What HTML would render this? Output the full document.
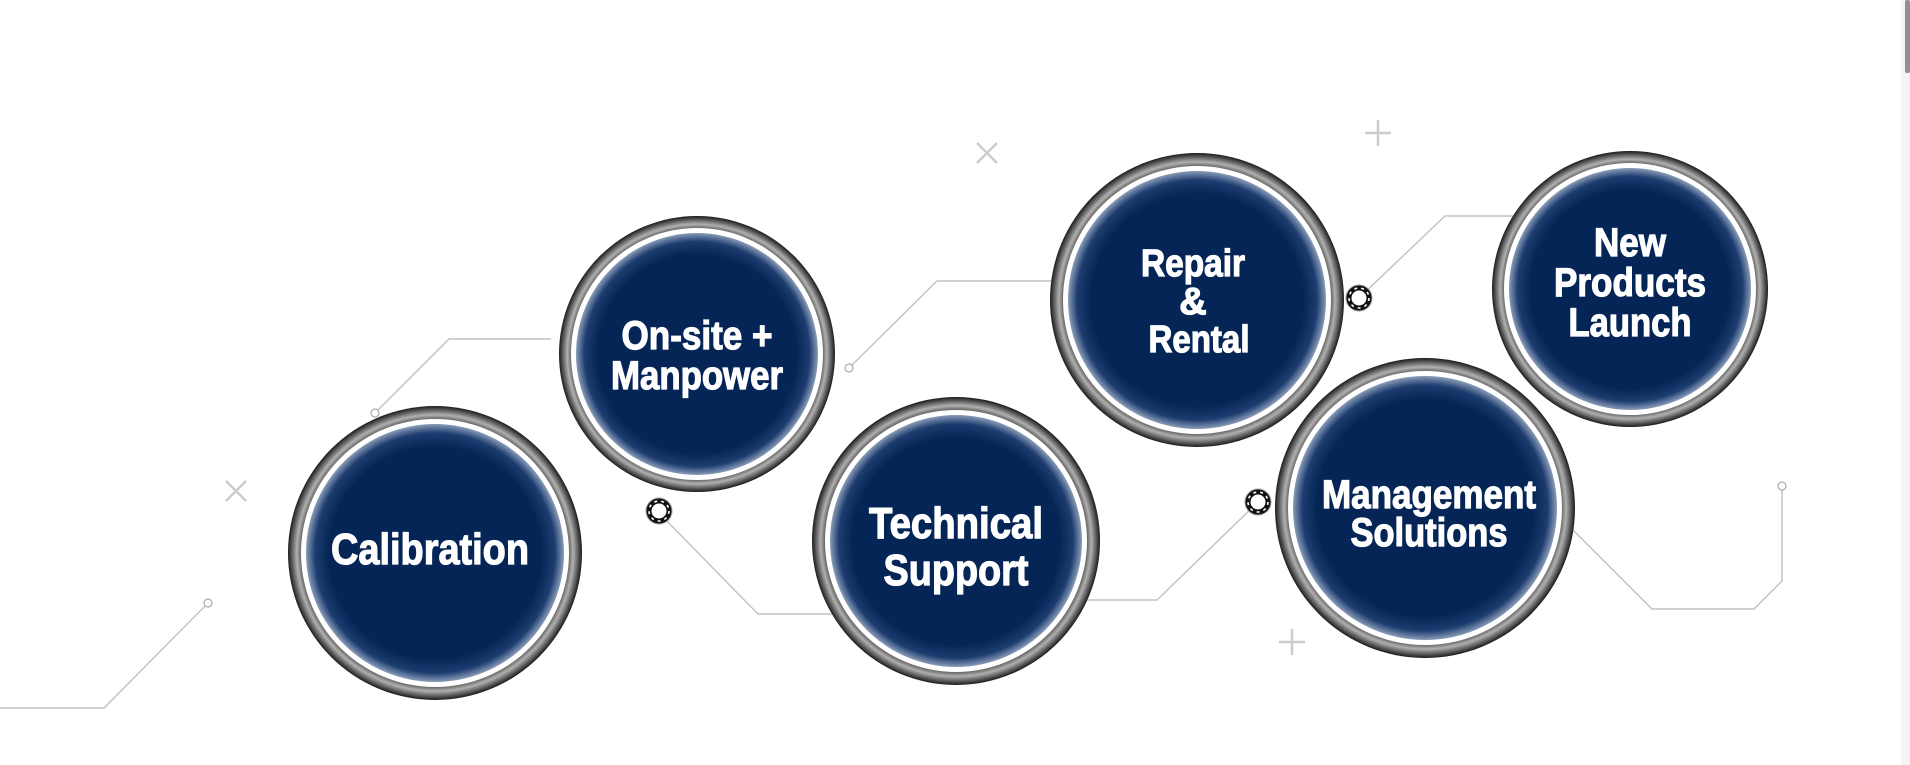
<!DOCTYPE html>
<html><head><meta charset="utf-8"><style>
html,body{margin:0;padding:0;background:#fff;width:1910px;height:765px;overflow:hidden}
svg{display:block}
text{font-family:"Liberation Sans Narrow","Liberation Sans",sans-serif;font-weight:bold;fill:#fff;stroke:#fff;stroke-width:1.2;text-anchor:middle}
</style></head><body>
<svg width="1910" height="765" viewBox="0 0 1910 765">
<defs>
<radialGradient id="ring" cx="50%" cy="50%" r="50%">
<stop offset="88%" stop-color="#1a1a1a"/><stop offset="94%" stop-color="#b0b0b0"/><stop offset="100%" stop-color="#1a1a1a"/>
</radialGradient>
<radialGradient id="fill" cx="50%" cy="50%" r="50%">
<stop offset="82%" stop-color="#052556"/><stop offset="93%" stop-color="#1d3d70"/><stop offset="100%" stop-color="#8a9cb8"/>
</radialGradient>
<g id="gear"><circle r="13" fill="#fff" stroke="#999" stroke-width="1"/><circle r="10" fill="none" stroke="#111" stroke-width="5"/><circle r="10" fill="none" stroke="#fff" stroke-width="1.6" stroke-dasharray="3 4"/></g>
</defs>
<g fill="none" stroke="#c4c4c4" stroke-width="1.5">
<polyline points="0,708 104,708 208,603"/>
<polyline points="375,413 449,339 551,339"/>
<polyline points="659,513 758,614 840,614"/>
<polyline points="1079,600 1157,600 1258,502"/>
<polyline points="849,368 937,281 1060,281"/>
<polyline points="1359,298 1445,216 1514,216"/>
<polyline points="1569,526 1652,609 1754,609 1782,581 1782,486"/>
</g>
<g fill="#fff" stroke="#aaa" stroke-width="1.2">
<circle cx="208" cy="603" r="4"/><circle cx="375" cy="413" r="4"/><circle cx="849" cy="368" r="4"/><circle cx="1782" cy="486" r="4"/><circle cx="1569" cy="526" r="4"/>
</g>
<use href="#gear" x="659" y="511"/><use href="#gear" x="1258" y="502"/><use href="#gear" x="1359" y="298"/>
<g stroke="#ccc" stroke-width="2.5" fill="none">
<path d="M977,143 l20,20 M997,143 l-20,20"/><path d="M226,481 l20,20 M246,481 l-20,20"/>
<path d="M1378,120 v26 M1365,133 h26"/><path d="M1292,629 v26 M1279,642 h26"/>
</g>
<g>
<circle cx="435" cy="553" r="147" fill="url(#ring)"/><circle cx="435" cy="553" r="134" fill="#fff"/><circle cx="435" cy="553" r="129" fill="url(#fill)"/>
<circle cx="697" cy="354" r="138" fill="url(#ring)"/><circle cx="697" cy="354" r="126" fill="#fff"/><circle cx="697" cy="354" r="121" fill="url(#fill)"/>
<circle cx="956" cy="541" r="144" fill="url(#ring)"/><circle cx="956" cy="541" r="131" fill="#fff"/><circle cx="956" cy="541" r="126" fill="url(#fill)"/>
<circle cx="1197" cy="300" r="147" fill="url(#ring)"/><circle cx="1197" cy="300" r="134" fill="#fff"/><circle cx="1197" cy="300" r="129" fill="url(#fill)"/>
<circle cx="1630" cy="289" r="138" fill="url(#ring)"/><circle cx="1630" cy="289" r="126" fill="#fff"/><circle cx="1630" cy="289" r="121" fill="url(#fill)"/>
<circle cx="1425" cy="508" r="150" fill="url(#ring)"/><circle cx="1425" cy="508" r="137" fill="#fff"/><circle cx="1425" cy="508" r="132" fill="url(#fill)"/>
</g>
<text x="430" y="564" font-size="44" textLength="198" lengthAdjust="spacingAndGlyphs">Calibration</text>
<text x="697" y="349" font-size="40" textLength="151" lengthAdjust="spacingAndGlyphs">On-site +</text>
<text x="697" y="389" font-size="40" textLength="172" lengthAdjust="spacingAndGlyphs">Manpower</text>
<text x="956" y="538" font-size="44" textLength="174" lengthAdjust="spacingAndGlyphs">Technical</text>
<text x="956" y="585" font-size="44" textLength="145" lengthAdjust="spacingAndGlyphs">Support</text>
<text x="1193" y="276" font-size="38" textLength="104" lengthAdjust="spacingAndGlyphs">Repair</text>
<text x="1193" y="314" font-size="38">&amp;</text>
<text x="1199" y="352" font-size="38" textLength="101" lengthAdjust="spacingAndGlyphs">Rental</text>
<text x="1630" y="256" font-size="40" textLength="72" lengthAdjust="spacingAndGlyphs">New</text>
<text x="1630" y="296" font-size="40" textLength="152" lengthAdjust="spacingAndGlyphs">Products</text>
<text x="1630" y="336" font-size="40" textLength="123" lengthAdjust="spacingAndGlyphs">Launch</text>
<text x="1429" y="508" font-size="40" textLength="214" lengthAdjust="spacingAndGlyphs">Management</text>
<text x="1429" y="546" font-size="40" textLength="157" lengthAdjust="spacingAndGlyphs">Solutions</text>
<rect x="1901" y="0" width="9" height="765" fill="#f4f4f4"/>
<rect x="1905" y="0" width="5" height="73" rx="2" fill="#909090"/>
</svg>
</body></html>
